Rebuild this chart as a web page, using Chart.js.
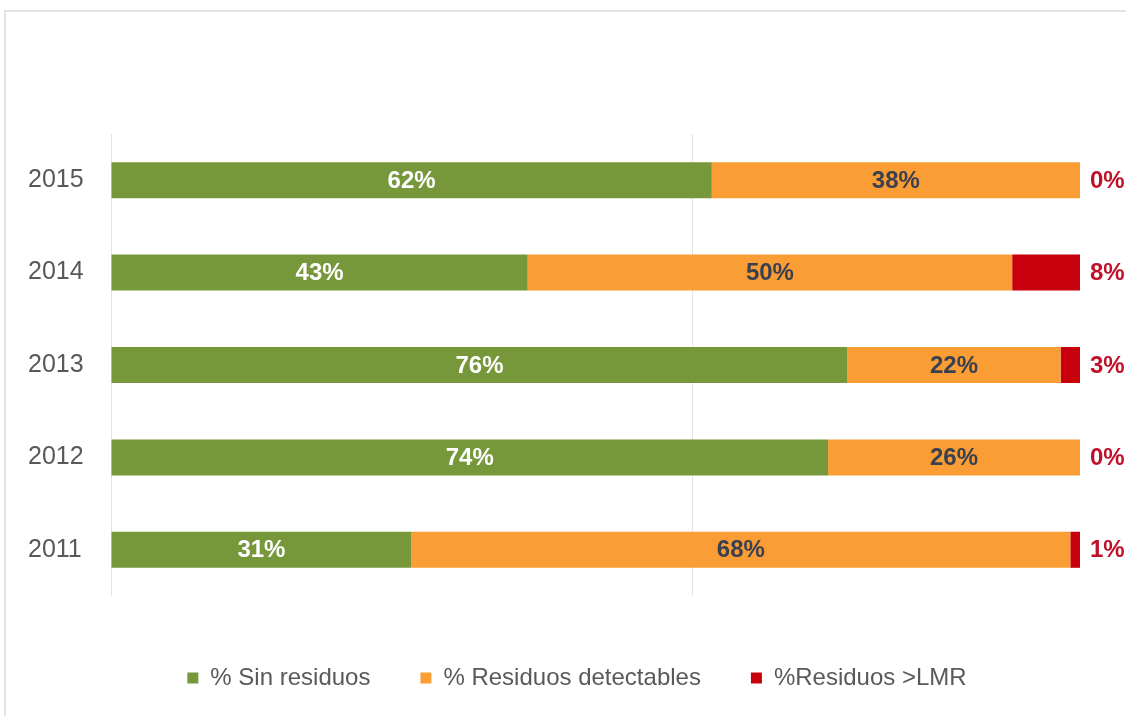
<!DOCTYPE html>
<html lang="es">
<head>
<meta charset="utf-8">
<script src="https://cdn.jsdelivr.net/npm/chart.js@4.4.1/dist/chart.umd.min.js"></script>
<style>
  html, body { margin: 0; padding: 0; background: #fff; overflow: hidden; }
  #frame {
    position: absolute; left: 4px; top: 10px; width: 1130px; height: 720px;
    border-top: 2px solid #e2e2e2; border-left: 2px solid #e2e2e2;
  }
  #wrap { position: absolute; left: 0; top: 0; width: 1126px; height: 716px; }
</style>
</head>
<body>
<div id="frame"></div>
<div id="wrap"><canvas id="residuosChart"></canvas></div>
<script>
const years = ['2015', '2014', '2013', '2012', '2011'];
const sinResiduos = [62, 43, 76, 74, 31];
const residuosDetectables = [38, 50, 22, 26, 68];
const residuosLMR = [0, 8, 3, 0, 1];
const seriesNames = ['% Sin residuos', '% Residuos detectables', '%Residuos >LMR'];

const GREEN = '#76973a';
const ORANGE = '#fa9d34';
const RED = '#c8000b';
const FONT = '"Liberation Sans", Arial, sans-serif';

// percentage labels: inside for the first two series, to the right of the bar for the last one
const barLabels = {
  id: 'barLabels',
  afterDatasetsDraw(chart) {
    const ctx = chart.ctx;
    const area = chart.chartArea;
    ctx.save();
    ctx.font = 'bold 24px ' + FONT;
    ctx.textBaseline = 'middle';
    chart.data.datasets.forEach((ds, di) => {
      const meta = chart.getDatasetMeta(di);
      meta.data.forEach((bar, i) => {
        const txt = ds.data[i] + '%';
        const end = Math.min(bar.x, area.right);
        if (di === 2) {
          ctx.fillStyle = '#c0112b';
          ctx.textAlign = 'left';
          ctx.fillText(txt, area.right + 10, bar.y + 1);
        } else {
          ctx.fillStyle = di === 0 ? '#ffffff' : '#3b4050';
          ctx.textAlign = 'center';
          ctx.fillText(txt, (bar.base + end) / 2, bar.y + 1);
        }
      });
    });
    ctx.restore();
  }
};

new Chart(document.getElementById('residuosChart'), {
  type: 'bar',
  data: {
    labels: years,
    datasets: [
      { label: seriesNames[0], data: sinResiduos, backgroundColor: GREEN },
      { label: seriesNames[1], data: residuosDetectables, backgroundColor: ORANGE },
      { label: seriesNames[2], data: residuosLMR, backgroundColor: RED }
    ]
  },
  options: {
    indexAxis: 'y',
    responsive: true,
    maintainAspectRatio: false,
    animation: false,
    // left padding keeps the legend centred under the whole figure
    layout: { padding: { left: 74, right: 46, top: 134, bottom: 16 } },
    datasets: { bar: { barPercentage: 1, categoryPercentage: 0.39 } },
    scales: {
      x: {
        stacked: true,
        min: 0,
        max: 100,
        ticks: { display: false, stepSize: 60 },
        grid: {
          drawTicks: false,
          color: c => (c.tick && c.tick.value === 100) ? 'rgba(0,0,0,0)' : '#e4e4e4'
        },
        border: { display: false },
        afterFit: s => { s.height = 20; }
      },
      y: {
        stacked: true,
        grid: { display: false, drawTicks: false },
        border: { display: false },
        // mirrored so the year labels are not clipped to the narrow axis box
        ticks: { mirror: true, color: '#595959', font: { family: FONT, size: 25 }, padding: -83 },
        afterFit: s => { s.width = 37; }
      }
    },
    plugins: {
      legend: {
        position: 'bottom',
        labels: {
          boxWidth: 11,
          boxHeight: 11,
          padding: 50,
          color: '#595959',
          font: { family: FONT, size: 24 }
        }
      },
      tooltip: { enabled: false }
    }
  },
  plugins: [barLabels]
});
</script>
</body>
</html>
